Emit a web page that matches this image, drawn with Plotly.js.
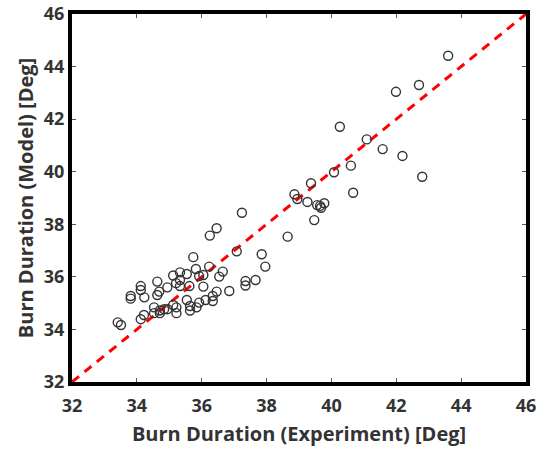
<!DOCTYPE html>
<html>
<head>
<meta charset="utf-8">
<script src="https://cdn.plot.ly/plotly-3.0.1.min.js"></script>
<style>html,body{margin:0;padding:0;background:#fff;}#chart{width:544px;height:455px;}</style>
</head>
<body>
<div id="chart"></div>
<script>
// Burn duration: experiment (x) vs model (y), degrees
const experiment = [
  43.60, 42.70, 41.99, 41.09, 41.58, 42.19, 42.80, 40.60, 40.67, 40.26,
  40.08, 39.37, 38.86, 38.95, 39.26, 39.56, 39.78, 39.68, 39.65, 39.47,
  38.65, 37.24, 36.46, 36.25, 35.74, 37.08, 37.85, 37.96, 36.23, 35.82,
  36.65, 36.54, 35.92, 36.05, 35.54, 35.33, 35.12, 35.21, 35.33, 35.33,
  35.62, 36.05, 34.63, 34.94, 34.69, 34.63, 34.12, 34.12, 34.23, 33.81,
  33.81, 35.54, 36.46, 36.34, 36.34, 36.12, 36.85, 37.35, 37.35, 37.66,
  35.92, 35.64, 35.64, 35.84, 35.22, 35.12, 35.22, 34.94, 34.84, 34.71,
  34.71, 34.53, 34.53, 34.22, 34.12, 33.41, 33.51
];
const model = [
  44.41, 43.30, 43.04, 41.23, 40.86, 40.60, 39.81, 40.23, 39.20, 41.71,
  39.98, 39.56, 39.14, 38.96, 38.85, 38.73, 38.80, 38.63, 38.70, 38.16,
  37.53, 38.44, 37.85, 37.57, 36.75, 36.97, 36.86, 36.39, 36.39, 36.30,
  36.20, 36.01, 36.03, 36.07, 36.11, 36.17, 36.05, 35.76, 35.88, 35.65,
  35.65, 35.63, 35.82, 35.60, 35.44, 35.31, 35.65, 35.50, 35.22, 35.27,
  35.17, 35.12, 35.44, 35.27, 35.08, 35.12, 35.46, 35.84, 35.67, 35.88,
  35.02, 34.89, 34.72, 34.84, 34.84, 34.93, 34.62, 34.77, 34.77, 34.72,
  34.62, 34.84, 34.62, 34.55, 34.39, 34.27, 34.17
];
const parityLine = [32, 46];
const tickVals = [32, 34, 36, 38, 40, 42, 44, 46];
const xTitle = 'Burn Duration (Experiment) [Deg]';
const yTitle = 'Burn Duration (Model) [Deg]';

const fam = '"Open Sans", Lato, sans-serif';

const traces = [
  {
    x: parityLine, y: parityLine, mode: 'lines', type: 'scatter',
    line: {color: '#ff0000', width: 3, dash: '9px,7px'}, hoverinfo: 'skip'
  },
  {
    x: experiment, y: model, mode: 'markers', type: 'scatter',
    marker: {symbol: 'circle-open', size: 9, color: '#333333', line: {width: 1.4, color: '#333333'}}
  }
];

const axisCommon = {
  range: [32, 46], tickvals: tickVals, ticktext: tickVals.map(String),
  showgrid: false, zeroline: false, showline: true, linecolor: '#000', linewidth: 4,
  mirror: 'ticks', ticks: 'inside', ticklen: 4, tickwidth: 1, tickcolor: '#555',
  tickfont: {family: fam, size: 18, color: '#333333', weight: 'bold'}
};

const layout = {
  width: 544, height: 455,
  margin: {l: 72, r: 18, t: 14, b: 73},
  paper_bgcolor: '#fff', plot_bgcolor: '#fff',
  showlegend: false,
  xaxis: Object.assign({}, axisCommon, {
    ticklabelstandoff: 4,
    title: {text: xTitle, font: {family: fam, size: 20, color: '#333333', weight: 'bold'}, standoff: 12}
  }),
  yaxis: Object.assign({}, axisCommon, {
    title: {text: yTitle, font: {family: fam, size: 20, color: '#333333', weight: 'bold'}, standoff: 6}
  })
};

Plotly.newPlot('chart', traces, layout, {displayModeBar: false, staticPlot: true});
</script>
</body>
</html>
